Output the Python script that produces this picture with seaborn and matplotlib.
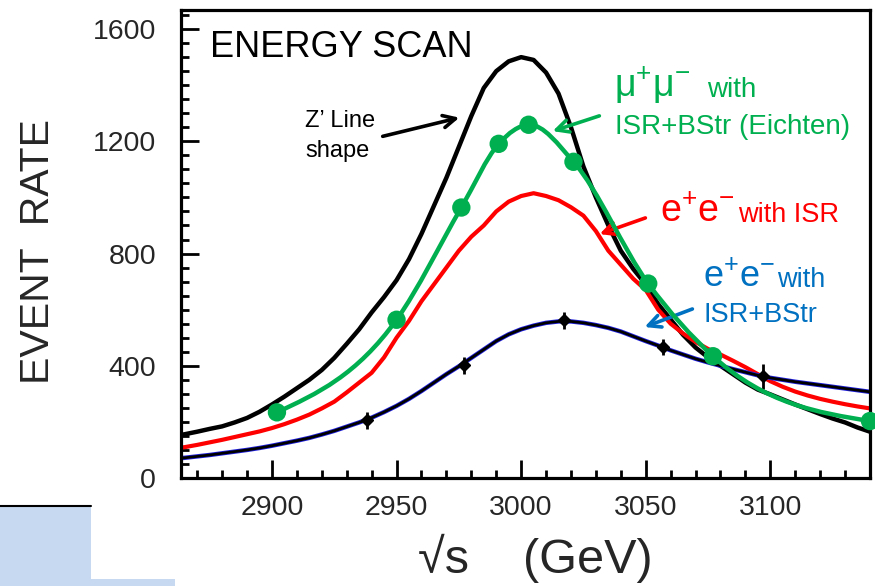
import numpy as np
import pandas as pd
import matplotlib
matplotlib.use("Agg")
import matplotlib.pyplot as plt
import seaborn as sns
from matplotlib.patches import Rectangle, PathPatch
from matplotlib.path import Path
from matplotlib.lines import Line2D
from matplotlib.ticker import MultipleLocator

# sqrt(s) grid of the histograms (GeV)
energy = [2860, 2865, 2870, 2875, 2880, 2885, 2890, 2895, 2900, 2905,
          2910, 2915, 2920, 2925, 2930, 2935, 2940, 2945, 2950, 2955,
          2960, 2965, 2970, 2975, 2980, 2985, 2990, 2995, 3000, 3005,
          3010, 3015, 3020, 3025, 3030, 3035, 3040, 3045, 3050, 3055,
          3060, 3065, 3070, 3075, 3080, 3085, 3090, 3095, 3100, 3105,
          3110, 3115, 3120, 3125, 3130, 3135, 3140]

# Z' line shape (black)
zprime = [148, 156, 165, 175, 184, 198, 214, 236, 262, 290,
          320, 350, 385, 428, 478, 530, 590, 645, 705, 780,
          870, 970, 1070, 1180, 1290, 1390, 1450, 1485, 1500, 1490,
          1445, 1370, 1250, 1110, 1000, 900, 810, 745, 690, 620,
          565, 510, 465, 430, 400, 370, 340, 315, 298, 280,
          262, 245, 228, 212, 198, 180, 165]

# e+e- with ISR (red)
ee_isr = [105, 110, 118, 127, 136, 146, 156, 166, 178, 192,
          208, 226, 248, 272, 305, 340, 375, 430, 500, 560,
          630, 690, 750, 810, 860, 900, 950, 985, 1005, 1015,
          1005, 990, 965, 935, 880, 810, 760, 710, 670, 600,
          550, 515, 485, 460, 440, 418, 395, 370, 345, 325,
          308, 294, 282, 272, 263, 255, 248]

# e+e- with ISR+BStr (blue/black)
ee_bstr = [68, 72, 77, 82, 88, 94, 100, 107, 115, 124,
           133, 143, 155, 168, 183, 198, 215, 235, 257, 282,
           310, 340, 370, 398, 428, 458, 488, 512, 530, 543,
           553, 558, 558, 553, 545, 535, 522, 505, 488, 472,
           455, 440, 425, 412, 400, 388, 377, 366, 357, 350,
           343, 337, 331, 325, 319, 313, 307]

# points with error bars on the ISR+BStr curve
bstr_pts_x = [2938, 2977, 3017, 3057, 3097]
bstr_pts_y = [206, 402, 562, 467, 362]
bstr_pts_err = [30, 30, 30, 30, 45]

# mu+mu- with ISR+BStr (Eichten), green
mumu_x = [2902, 2950, 2976, 2991, 3003, 3021, 3051, 3077, 3140]
mumu_y = [234, 564, 964, 1191, 1259, 1127, 693, 434, 203]

xticks = [2900, 2950, 3000, 3050, 3100]
yticks = [0, 400, 800, 1200, 1600]

GREEN = "#00b050"
RED = "#ff0000"
BLUE = "#0070c0"
W, H = 875, 586

sns.set_style("ticks")
plt.rcParams["font.family"] = ["Liberation Sans", "DejaVu Sans"]
plt.rcParams["mathtext.fontset"] = "custom"
plt.rcParams["mathtext.rm"] = "Liberation Sans"
plt.rcParams["mathtext.it"] = "Liberation Sans:italic"
plt.rcParams["mathtext.bf"] = "Liberation Sans:bold"

fig = plt.figure(figsize=(W / 100, H / 100), dpi=100)
ax = fig.add_axes([181 / W, 108 / H, 689 / W, 468 / H])

sns.lineplot(x=energy, y=zprime, color="black", lw=3.2, estimator=None, ax=ax)
sns.lineplot(x=energy, y=ee_isr, color=RED, lw=3, estimator=None, ax=ax)
sns.lineplot(x=energy, y=ee_bstr, color="#2020e0", lw=3.2, estimator=None, ax=ax)
sns.lineplot(x=energy, y=ee_bstr, color="black", lw=2, estimator=None, ax=ax)
ax.errorbar(bstr_pts_x, bstr_pts_y, yerr=bstr_pts_err, fmt="D", ms=6,
            color="black", elinewidth=2, capsize=0, zorder=4)


# smooth green curve through the measured points (cubic Hermite as Bezier)
def smooth_path(xs, ys):
    xs = np.asarray(xs, float)
    ys = np.asarray(ys, float)
    h = np.diff(xs)
    s = np.diff(ys) / h
    m = np.empty_like(xs)
    m[1:-1] = (s[1:] * h[:-1] + s[:-1] * h[1:]) / (h[:-1] + h[1:])
    m[0] = (3 * s[0] - m[1]) / 2
    m[-1] = (3 * s[-1] - m[-2]) / 2
    verts = [(xs[0], ys[0])]
    codes = [Path.MOVETO]
    for i in range(len(h)):
        d = h[i] / 3
        verts += [(xs[i] + d, ys[i] + m[i] * d),
                  (xs[i + 1] - d, ys[i + 1] - m[i + 1] * d),
                  (xs[i + 1], ys[i + 1])]
        codes += [Path.CURVE4] * 3
    return Path(verts, codes)


ax.add_patch(PathPatch(smooth_path(mumu_x, mumu_y), fill=False,
                       edgecolor=GREEN, lw=3.2, zorder=5))
sns.scatterplot(x=mumu_x, y=mumu_y, color=GREEN, s=175, edgecolor="none",
                clip_on=False, zorder=6, ax=ax)

ax.set_xlim(2863.5, 3140)
ax.set_ylim(0, 1668)
ax.set_xticks(xticks)
ax.set_yticks(yticks)
ax.xaxis.set_minor_locator(MultipleLocator(10))
ax.yaxis.set_minor_locator(MultipleLocator(50))
ax.tick_params(axis="both", which="major", direction="in", length=13,
               width=2, labelsize=20.5, color="black")
ax.tick_params(axis="both", which="minor", direction="in", length=6,
               width=2, color="black")
ax.tick_params(axis="x", which="major", pad=12)
ax.tick_params(axis="y", which="major", pad=18)
ax.tick_params(top=False, right=False, which="both")
for sp in ax.spines.values():
    sp.set_visible(True)
    sp.set_linewidth(2.3)
    sp.set_color("black")
ax.grid(False)

# axis titles, placed like on the slide
fig.text(535 / W, 1 - 573 / H, "\u221as    (GeV)", fontsize=35,
         ha="center", va="baseline")
fig.text(38 / W, 1 - 252 / H, "EVENT  RATE", fontsize=29.5, rotation=90,
         ha="center", va="center")


def label(xp, yp, s, size, color):
    fig.text(xp / W, 1 - yp / H, s, fontsize=size, color=color,
             ha="left", va="baseline")


def arrow(tail, head, color):
    ax.annotate("", xy=(head[0], H - head[1]), xycoords="figure pixels",
                xytext=(tail[0], H - tail[1]), textcoords="figure pixels",
                arrowprops=dict(arrowstyle="->", color=color, lw=2.6,
                                mutation_scale=22))


label(210, 57, "ENERGY SCAN", 26, "black")

label(305, 127, "Z\u2019 Line", 17, "black")
label(305, 157, "shape", 17, "black")
arrow((380, 137), (462, 117), "black")

label(614, 97, r"$\mathrm{\mu}^{+}\mathrm{\mu}^{-}$", 27, GREEN)
label(707, 97, "with", 20, GREEN)
label(615, 134, "ISR+BStr (Eichten)", 20, GREEN)
arrow((602, 115), (550, 132), GREEN)

label(660, 222, r"e$^{+}$e$^{-}$", 27, RED)
label(738, 222, "with ISR", 19.5, RED)
arrow((648, 217), (597, 235), RED)

label(703, 287, r"e$^{+}$e$^{-}$", 26, BLUE)
label(777, 287, "with", 19.5, BLUE)
label(703, 322, "ISR+BStr", 19.5, BLUE)
arrow((695, 308), (642, 328), BLUE)

# light-blue slide fragment in the lower-left corner
fig.patches.append(Rectangle((0, 0), 91 / W, 80 / H, transform=fig.transFigure,
                             facecolor="#c6d9f0", edgecolor="none", zorder=0))
fig.patches.append(Rectangle((91 / W, 0), 84 / W, 7 / H, transform=fig.transFigure,
                             facecolor="#c6d9f0", edgecolor="none", zorder=0))
fig.lines.append(Line2D([0, 91 / W], [80 / H, 80 / H], transform=fig.transFigure,
                        color="black", lw=1.5))

fig.savefig("out.png", dpi=100)
